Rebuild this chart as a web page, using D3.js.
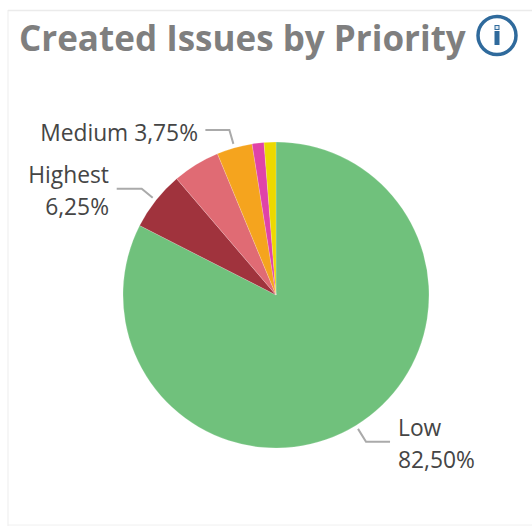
<!DOCTYPE html>
<html>
<head>
<meta charset="utf-8">
<script src="https://cdnjs.cloudflare.com/ajax/libs/d3/7.8.5/d3.min.js"></script>
<style>
  html, body { margin: 0; padding: 0; background: #fff; }
  svg { display: block; font-family: "Open Sans", sans-serif; }
</style>
</head>
<body>
<div id="chart"></div>
<script>
var priorities = ['Low', 'Highest', 'High', 'Medium', 'Lowest', 'None'];
var shares = [82.5, 6.25, 5, 3.75, 1.25, 1.25];
var colors = ['#70c17c', '#a0333d', '#e06b74', '#f5a41e', '#e043a8', '#ecd900'];
var shown = ['Low', 'Highest', 'Medium'];

var width = 532, height = 526;
var cx = 276, cy = 295, radius = 153;

var svg = d3.select('#chart').append('svg')
  .attr('width', width)
  .attr('height', height);

// card edge
svg.append('line')
  .attr('x1', 8).attr('x2', 8)
  .attr('y1', 10).attr('y2', height)
  .attr('stroke', '#f3f3f3')
  .attr('stroke-width', 1.5);
svg.append('line')
  .attr('x1', 8).attr('x2', width)
  .attr('y1', 10.5).attr('y2', 10.5)
  .attr('stroke', '#ebebeb')
  .attr('stroke-width', 1.5);
svg.append('line')
  .attr('x1', 8).attr('x2', width)
  .attr('y1', 525).attr('y2', 525)
  .attr('stroke', '#f0f0f0');

svg.append('text')
  .attr('x', 19)
  .attr('y', 51)
  .attr('font-size', 35)
  .attr('font-weight', 700)
  .attr('fill', '#7f7f7f')
  .text('Created Issues by Priority');

// info icon
var info = svg.append('g').attr('transform', 'translate(497,35.5)');
info.append('circle')
  .attr('r', 19)
  .attr('fill', '#fff')
  .attr('stroke', '#2f6a9c')
  .attr('stroke-width', 3.5);
info.append('rect')
  .attr('x', -2.5).attr('y', -4.5)
  .attr('width', 5).attr('height', 14)
  .attr('fill', '#2f6a9c');
info.append('rect')
  .attr('x', -2).attr('y', -10)
  .attr('width', 4).attr('height', 4)
  .attr('fill', '#dfe8f0')
  .attr('stroke', '#2f6a9c')
  .attr('stroke-width', 1);

var color = d3.scaleOrdinal().domain(priorities).range(colors);

var pie = d3.pie().sort(null);
var arc = d3.arc().innerRadius(0).outerRadius(radius);
var slices = pie(shares);

var g = svg.append('g').attr('transform', 'translate(' + cx + ',' + cy + ')');

g.selectAll('path')
  .data(slices)
  .enter().append('path')
  .attr('d', arc)
  .attr('fill', function(d, i) { return color(priorities[i]); })
  .attr('stroke', '#fff')
  .attr('stroke-opacity', 0.35)
  .attr('stroke-width', 0.5);

var label = function(d) {
  return d3.format('.2f')(d).replace('.', ',') + '%';
};

// leader lines leave the rim at the middle of the slice
var leaders = {
  Low: { dir: 1, bend: [8, 13], run: 24, text: [398, 436], two: true, anchor: 'start' },
  Highest: { dir: -1, bend: [-11, -9], run: 25, text: [109, 183], two: true, anchor: 'end' },
  Medium: { dir: -1, bend: [-4, -14], run: 24, text: [198, 141], two: false, anchor: 'end' }
};

shown.forEach(function(name) {
  var i = priorities.indexOf(name);
  var s = slices[i];
  var a = (s.startAngle + s.endAngle) / 2;
  var p0 = [Math.sin(a) * (radius + 4), -Math.cos(a) * (radius + 4)];
  var p = leaders[name];
  var p1 = [p0[0] + p.bend[0], p0[1] + p.bend[1]];
  var p2 = [p1[0] + p.dir * p.run, p1[1]];

  g.append('path')
    .attr('d', d3.line()([p0, p1, p2]))
    .attr('fill', 'none')
    .attr('stroke', '#aaaaaa')
    .attr('stroke-width', 2);

  var t = svg.append('text')
    .attr('x', p.text[0])
    .attr('y', p.text[1])
    .attr('text-anchor', p.anchor)
    .attr('font-size', 22.8)
    .attr('fill', '#454545');

  if (p.two) {
    t.append('tspan').attr('x', p.text[0]).text(name);
    t.append('tspan').attr('x', p.text[0]).attr('dy', 32).text(label(shares[i]));
  } else {
    t.text(name + ' ' + label(shares[i]));
  }
});
</script>
</body>
</html>
